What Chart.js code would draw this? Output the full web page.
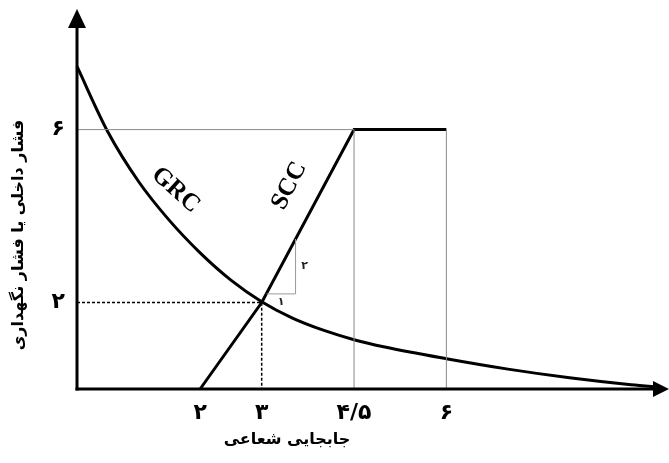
<!DOCTYPE html>
<html>
<head>
<meta charset="utf-8">
<script src="https://cdn.jsdelivr.net/npm/chart.js@4.4.1/dist/chart.umd.min.js"></script>
<style>
  body { margin: 0; background: #fff; }
  #wrap { width: 669px; height: 463px; }
</style>
</head>
<body>
<div id="wrap"><canvas id="myChart" width="669" height="463"></canvas></div>
<script>
// Chart data
const xTicks = [2, 3, 4.5, 6];
const xTickLabels = ["۲", "۳", "۴/۵", "۶"];
const yTicks = [2, 6];
const yTickLabels = ["۲", "۶"];

// GRC curve (ground reaction curve)
const grcX = [0, 0.5, 1, 1.5, 2, 2.5, 3, 3.5, 4, 4.5, 5, 6, 7, 8, 9, 9.5];
const grcY = [7.46, 5.95, 4.8, 3.9, 3.15, 2.52, 2.02, 1.64, 1.36, 1.14, 0.97, 0.7, 0.46, 0.26, 0.1, 0.04];

// SCC line (support characteristic curve)
const sccX = [2, 3, 4.5, 6];
const sccY = [0, 2, 6, 6];

// thin guide lines and the dashed marker at the intersection
const guideTopX = [0, 4.5];
const guideTopY = [6, 6];
const guideMidX = [4.5, 4.5];
const guideMidY = [0, 6];
const guideEndX = [6, 6];
const guideEndY = [0, 6];
const dashX = [0, 3, 3];
const dashY = [2, 2, 0];
const slopeX = [3.08, 3.55, 3.55];
const slopeY = [2.2, 2.2, 3.47];

function toPoints(xs, ys) {
  return xs.map((x, i) => ({ x: x, y: ys[i] }));
}

function thinLine(xs, ys, color) {
  return {
    data: toPoints(xs, ys),
    borderColor: color,
    borderWidth: 1,
    pointRadius: 0,
    tension: 0,
    clip: false,
  };
}

// axes with arrows, curve labels and axis titles
const decorPlugin = {
  id: "decor",
  afterDatasetsDraw(chart) {
    const c = chart.ctx;
    const area = chart.chartArea;
    const xs = chart.scales.x;
    const ys = chart.scales.y;
    c.save();
    c.fillStyle = "#000";
    c.strokeStyle = "#000";
    c.lineWidth = 3;

    // x axis
    c.beginPath();
    c.moveTo(area.left - 1.5, area.bottom);
    c.lineTo(656, area.bottom);
    c.stroke();
    c.beginPath();
    c.moveTo(669, area.bottom);
    c.lineTo(653, area.bottom - 8);
    c.lineTo(653, area.bottom + 8);
    c.closePath();
    c.fill();

    // y axis
    c.beginPath();
    c.moveTo(area.left, area.bottom + 1.5);
    c.lineTo(area.left, 24);
    c.stroke();
    c.beginPath();
    c.moveTo(area.left, 9);
    c.lineTo(area.left - 9, 28);
    c.lineTo(area.left + 9, 28);
    c.closePath();
    c.fill();

    // curve labels
    c.font = 'bold 25px "Liberation Serif"';
    c.textAlign = "center";
    c.textBaseline = "middle";
    c.save();
    c.translate(xs.getPixelForValue(1.6), ys.getPixelForValue(4.6));
    c.rotate((42 * Math.PI) / 180);
    c.fillText("GRC", 0, 0);
    c.restore();
    c.save();
    c.translate(xs.getPixelForValue(3.45), ys.getPixelForValue(4.7));
    c.rotate((-63 * Math.PI) / 180);
    c.fillText("SCC", 0, 0);
    c.restore();

    // slope triangle labels
    c.font = 'bold 11px "DejaVu Sans"';
    c.fillStyle = "#222";
    c.fillText("۱", xs.getPixelForValue((slopeX[0] + slopeX[1]) / 2), ys.getPixelForValue(slopeY[0]) + 8);
    c.fillText("۲", xs.getPixelForValue(slopeX[1]) + 9, ys.getPixelForValue((slopeY[1] + slopeY[2]) / 2));

    // axis titles
    c.fillStyle = "#000";
    c.font = 'bold 16px "DejaVu Sans"';
    c.fillText("جابجایی شعاعی", 287, 440);
    c.save();
    c.translate(19, 235);
    c.rotate(-Math.PI / 2);
    c.fillText("فشار داخلی یا فشار نگهداری", 0, 0);
    c.restore();

    c.restore();
  },
};

const ctx = document.getElementById("myChart");
const myChart = new Chart(ctx, {
  type: "line",
  data: {
    datasets: [
      thinLine(guideTopX, guideTopY, "#8a8a8a"),
      thinLine(guideMidX, guideMidY, "#8a8a8a"),
      thinLine(guideEndX, guideEndY, "#8a8a8a"),
      thinLine(slopeX, slopeY, "#9a9a9a"),
      {
        data: toPoints(dashX, dashY),
        borderColor: "#000",
        borderWidth: 1.5,
        borderDash: [3, 2],
        pointRadius: 0,
        tension: 0,
        clip: false,
      },
      {
        label: "GRC",
        data: toPoints(grcX, grcY),
        borderColor: "#000",
        borderWidth: 3,
        pointRadius: 0,
        cubicInterpolationMode: "monotone",
        clip: false,
      },
      {
        label: "SCC",
        data: toPoints(sccX, sccY),
        borderColor: "#000",
        borderWidth: 3,
        pointRadius: 0,
        tension: 0,
        clip: false,
      },
    ],
  },
  options: {
    responsive: false,
    animation: false,
    layout: { padding: { top: 12, right: 1, left: 0, bottom: 0 } },
    plugins: {
      legend: { display: false },
      tooltip: { enabled: false },
    },
    scales: {
      x: {
        type: "linear",
        min: 0,
        max: 9.6,
        grid: { display: false },
        border: { display: false },
        afterBuildTicks: (axis) => {
          axis.ticks = xTicks.map((v) => ({ value: v }));
        },
        afterFit: (axis) => {
          axis.height = 74;
        },
        ticks: {
          autoSkip: false,
          maxRotation: 0,
          padding: 3,
          color: "#000",
          font: { family: "DejaVu Sans", weight: "bold", size: 22 },
          callback: (value, index) => xTickLabels[index],
        },
      },
      y: {
        type: "linear",
        min: 0,
        max: 8.6,
        grid: { display: false },
        border: { display: false },
        afterBuildTicks: (axis) => {
          axis.ticks = yTicks.map((v) => ({ value: v }));
        },
        afterFit: (axis) => {
          axis.width = 77;
        },
        ticks: {
          autoSkip: false,
          padding: 4,
          color: "#000",
          font: { family: "DejaVu Sans", weight: "bold", size: 22 },
          callback: (value, index) => yTickLabels[index],
        },
      },
    },
  },
  plugins: [decorPlugin],
});
</script>
</body>
</html>
